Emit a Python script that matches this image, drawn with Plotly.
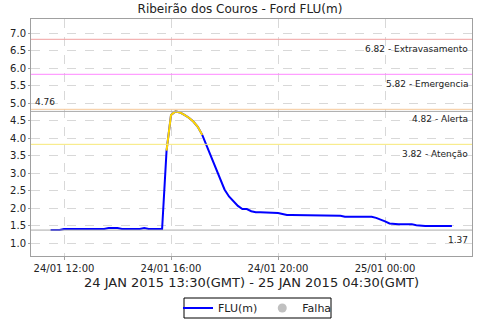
import plotly.graph_objects as go
import pandas as pd

# Data: FLU(m), 10-minute readings, local time (GMT-2)
start_time = "2015-01-24 11:30"
step_minutes = 10
flu_values = [
    1.37, 1.37, 1.37, 1.40, 1.40, 1.40, 1.40, 1.40, 1.40, 1.40,
    1.40, 1.40, 1.40, 1.43, 1.43, 1.43, 1.40, 1.40, 1.40, 1.40,
    1.40, 1.43, 1.40, 1.40, 1.40, 1.40, 3.64, 4.66, 4.76, 4.73,
    4.66, 4.58, 4.47, 4.32, 4.09, 3.78, 3.45, 3.12, 2.83, 2.53,
    2.33, 2.18, 2.06, 1.97, 1.97, 1.91, 1.88, 1.88, 1.88, 1.88,
    1.86, 1.86, 1.83, 1.80, 1.80, 1.80, 1.80, 1.80, 1.80, 1.80,
    1.80, 1.80, 1.80, 1.80, 1.80, 1.78, 1.75, 1.75, 1.75, 1.75,
    1.75, 1.75, 1.75, 1.72, 1.68, 1.62, 1.56, 1.54, 1.54, 1.54,
    1.54, 1.54, 1.51, 1.49, 1.49, 1.49, 1.49, 1.49, 1.49, 1.49,
    1.49,
]
alert_start_idx = 26
alert_end_idx = 34

threshold_values = [6.82, 5.82, 4.82, 3.82]
threshold_names = ["Extravasamento", "Emergencia", "Alerta", "Atenção"]
threshold_colors = ["#f0a0a0", "#ff88ff", "#f5c89a", "#f7e877"]

tick_times = ["2015-01-24 12:00", "2015-01-24 16:00", "2015-01-24 20:00", "2015-01-25 00:00"]
tick_labels = ["24/01 12:00", "24/01 16:00", "24/01 20:00", "25/01 00:00"]
x_range = ["2015-01-24 10:46", "2015-01-25 03:15"]
y_range = [0.63, 7.4]

title_text = "Ribeirão dos Couros - Ford FLU(m)"
xaxis_title = "24 JAN 2015 13:30(GMT) - 25 JAN 2015 04:30(GMT)"

times = pd.date_range(start_time, periods=len(flu_values), freq=f"{step_minutes}min")
vmin = min(flu_values)
vmax = max(flu_values)

FONT = "DejaVu Sans"
fig = go.Figure()

fig.add_trace(go.Scatter(x=times, y=flu_values, mode="lines", name="FLU(m)",
                         line=dict(color="#0000ff", width=2)))
fig.add_trace(go.Scatter(x=times[alert_start_idx:alert_end_idx + 1],
                         y=flu_values[alert_start_idx:alert_end_idx + 1],
                         mode="lines", showlegend=False, hoverinfo="skip",
                         line=dict(color="#ffd800", width=2)))
fig.add_trace(go.Scatter(x=[None], y=[None], mode="markers", name="Falha",
                         marker=dict(color="#c0c0c0", size=9, symbol="circle")))

for v, c, n in zip(threshold_values, threshold_colors, threshold_names):
    fig.add_shape(type="line", xref="paper", x0=0, x1=1, yref="y", y0=v, y1=v,
                  line=dict(color=c, width=1))
    fig.add_annotation(xref="paper", x=0.995, yref="y", y=v, yshift=-3,
                       text=f"{v:.2f} - {n}", showarrow=False,
                       xanchor="right", yanchor="top",
                       font=dict(family=FONT, size=9, color="#222"))

for v in (vmax, vmin):
    fig.add_shape(type="line", xref="paper", x0=0, x1=1, yref="y", y0=v, y1=v,
                  line=dict(color="#aaaaaa", width=1))
fig.add_annotation(xref="paper", x=0.005, yref="y", y=vmax, yshift=2,
                   text=f"{vmax:.2f}", showarrow=False, xanchor="left", yanchor="bottom",
                   font=dict(family=FONT, size=9, color="#222"))
fig.add_annotation(xref="paper", x=0.995, yref="y", y=vmin, yshift=-3,
                   text=f"{vmin:.2f}", showarrow=False, xanchor="right", yanchor="top",
                   font=dict(family=FONT, size=9, color="#222"))

fig.add_annotation(xref="paper", x=0.5, yref="paper", y=-0.11, yanchor="middle",
                   text=xaxis_title, showarrow=False,
                   font=dict(family=FONT, size=13, color="#222"))

# legend frame (compact box like the original)
fig.add_shape(type="rect", xref="paper", yref="paper",
              x0=(184 - 31) / 441, x1=(331 - 31) / 441,
              y0=(256 - 298) / 237, y1=(256 - 318) / 237,
              line=dict(color="#000", width=1), fillcolor="rgba(0,0,0,0)")

fig.update_layout(
    width=480, height=320,
    margin=dict(l=31, r=8, t=19, b=64, autoexpand=False),
    paper_bgcolor="white", plot_bgcolor="white",
    font=dict(family=FONT, size=10, color="#222"),
    title=dict(text=title_text, x=0.5, xanchor="center", y=1 - 9 / 320, yanchor="middle",
               font=dict(family=FONT, size=12, color="#222")),
    showlegend=True,
    legend=dict(orientation="h", x=(257.5 - 31) / 441, xanchor="center", yref="paper",
                y=(256 - 308) / 237, yanchor="middle",
                bgcolor="rgba(0,0,0,0)", borderwidth=0,
                font=dict(family=FONT, size=11),
                itemwidth=30, tracegroupgap=0, valign="middle"),
)
fig.update_xaxes(range=x_range, tickvals=tick_times, ticktext=tick_labels,
                 showgrid=True, gridcolor="#d8d8d8", griddash="dash", gridwidth=1,
                 showline=True, linecolor="#a0a0a0", mirror=True,
                 ticks="outside", ticklen=3, tickcolor="#a0a0a0",
                 tickfont=dict(family=FONT, size=10), zeroline=False)
fig.update_yaxes(range=y_range, tickvals=[1 + 0.5 * i for i in range(13)],
                 tickformat=".1f",
                 showgrid=True, gridcolor="#d8d8d8", griddash="dash", gridwidth=1,
                 showline=True, linecolor="#a0a0a0", mirror=True,
                 ticks="outside", ticklen=2, tickcolor="#a0a0a0",
                 tickfont=dict(family=FONT, size=10), zeroline=False)

fig.write_html("out.html")
